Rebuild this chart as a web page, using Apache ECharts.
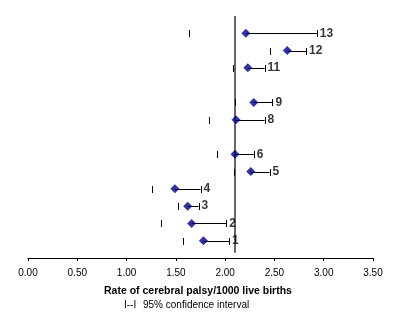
<!DOCTYPE html>
<html>
<head>
<meta charset="utf-8">
<script src="https://cdn.jsdelivr.net/npm/echarts@6/dist/echarts.min.js"></script>
<style>html,body{margin:0;padding:0;background:#fff}#c{width:401px;height:331px}</style>
</head>
<body>
<div id="c"></div>
<script>
// Data
var categories = [1, 2, 3, 4, 5, 6, 8, 9, 11, 12, 13];
var rates      = [1.78, 1.66, 1.62, 1.49, 2.26, 2.10, 2.11, 2.29, 2.23, 2.63, 2.21];
var lowerCI    = [1.57, 1.35, 1.52, 1.26, 2.09, 1.92, 1.84, 2.10, 2.08, 2.46, 1.63];
var upperCI    = [2.04, 2.01, 1.73, 1.75, 2.45, 2.29, 2.40, 2.48, 2.40, 2.82, 2.93];
var referenceRate = 2.10;
var xTicks = [0, 0.5, 1, 1.5, 2, 2.5, 3, 3.5];
var xTitle = 'Rate of cerebral palsy/1000 live births';
var legendSymbol = 'I--I';
var legendText = '95% confidence interval';

var FONT = 'Arial, "Liberation Sans", sans-serif';
var chart = echarts.init(document.getElementById('c'), null, {renderer: 'canvas'});

var errData = categories.map(function (c, i) { return [rates[i], c, upperCI[i], lowerCI[i]]; });
var ptData = categories.map(function (c, i) { return [rates[i], c]; });
var lblData = categories.map(function (c, i) { return [upperCI[i], c, String(c)]; });

chart.setOption({
  animation: false,
  backgroundColor: '#ffffff',
  grid: {left: 28, right: 28, top: 16, bottom: 73, containLabel: false},
  xAxis: {
    type: 'value', min: xTicks[0], max: xTicks[xTicks.length - 1], interval: 0.5,
    axisLine: {show: true, lineStyle: {color: '#000', width: 1}},
    axisTick: {show: true, length: 3, lineStyle: {color: '#000'}},
    splitLine: {show: false},
    axisLabel: {color: '#000', fontSize: 10, fontFamily: FONT, margin: 10,
      formatter: function (v) { return v.toFixed(2); }}
  },
  yAxis: {type: 'value', min: 0, max: 14, show: false},
  graphic: [
    {type: 'text', x: 104, y: 286, style: {text: xTitle, font: 'bold 10.5px ' + FONT, fill: '#000'}},
    {type: 'text', x: 124, y: 300, style: {text: legendSymbol, font: '10px ' + FONT, fill: '#000'}},
    {type: 'text', x: 143, y: 300, style: {text: legendText, font: '10px ' + FONT, fill: '#000'}}
  ],
  series: [
    {
      type: 'line', data: [[referenceRate, 0.3], [referenceRate, 14]],
      symbol: 'none', lineStyle: {color: '#000', width: 1.2}, silent: true, z: 1
    },
    {
      type: 'custom', data: errData, z: 2,
      renderItem: function (params, api) {
        var p = api.coord([api.value(0), api.value(1)]);
        var u = api.coord([api.value(2), api.value(1)]);
        var l = api.coord([api.value(3), api.value(1)]);
        var y = Math.round(p[1]) + 0.5;
        var st = {stroke: '#000', lineWidth: 1};
        return {type: 'group', children: [
          {type: 'line', shape: {x1: p[0], y1: y, x2: u[0], y2: y}, style: st},
          {type: 'line', shape: {x1: Math.round(u[0]) + 0.5, y1: y - 3.5, x2: Math.round(u[0]) + 0.5, y2: y + 3.5}, style: st},
          {type: 'line', shape: {x1: Math.round(l[0]) + 0.5, y1: y - 3.5, x2: Math.round(l[0]) + 0.5, y2: y + 3.5}, style: st}
        ]};
      }
    },
    {
      type: 'scatter', data: ptData, symbol: 'diamond', symbolSize: [9, 9], z: 3,
      itemStyle: {color: '#000080'}
    },
    {
      type: 'scatter', data: lblData, symbolSize: 0, z: 4,
      label: {show: true, position: 'right', distance: 3, formatter: function (p) { return p.value[2]; },
        color: '#000', fontSize: 12, fontWeight: 'bold', fontFamily: FONT}
    }
  ]
});
</script>
</body>
</html>
